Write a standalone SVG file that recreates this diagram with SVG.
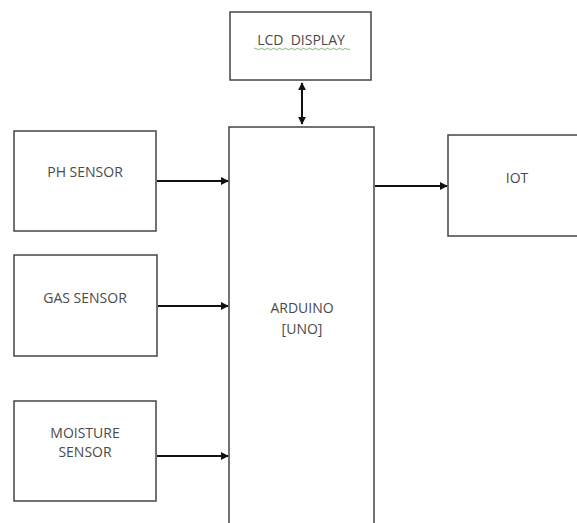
<svg xmlns="http://www.w3.org/2000/svg" width="577" height="523" viewBox="0 0 577 523">
<defs>
<style>
.box{fill:#fff;stroke:#444;stroke-width:1.5}
.lbl{font-family:"Open Sans","Liberation Sans",sans-serif;font-size:14px;fill:#4a4a4a;text-anchor:middle}
.con{stroke:#111;stroke-width:2;fill:none}
</style>
<marker id="ah" viewBox="0 0 10 10" refX="9" refY="5" markerWidth="4" markerHeight="4" orient="auto-start-reverse">
<path d="M0,0 L10,5 L0,10 Z" fill="#111"/>
</marker>
</defs>
<rect width="577" height="523" fill="#fff"/>
<g id="lcd">
<rect class="box" x="230" y="12" width="141" height="68"/>
<text class="lbl" x="301" y="45" xml:space="preserve" style="white-space:pre">LCD  DISPLAY</text>
<path d="M254,49 q1.5,-1.5 3,0 t3,0 t3,0 t3,0 t3,0 t3,0 t3,0 t3,0 t3,0 t3,0 t3,0 t3,0 t3,0 t3,0 t3,0 t3,0 t3,0 t3,0 t3,0 t3,0 t3,0 t3,0 t3,0 t3,0 t3,0 t3,0 t3,0 t3,0 t3,0 t3,0 t3,0 t3,0" fill="none" stroke="#6a9a5a" stroke-width="0.8"/>
</g>
<g id="arduino">
<path class="box" d="M229,530 V127 H374 V530"/>
<text class="lbl" x="302" y="313">ARDUINO</text>
<text class="lbl" x="302" y="334">[UNO]</text>
</g>
<g id="ph">
<rect class="box" x="14" y="131" width="142" height="100"/>
<text class="lbl" x="85" y="177">PH SENSOR</text>
</g>
<g id="gas">
<rect class="box" x="14" y="255" width="143" height="101"/>
<text class="lbl" x="85" y="303">GAS SENSOR</text>
</g>
<g id="moisture">
<rect class="box" x="14" y="401" width="142" height="100"/>
<text class="lbl" x="85" y="438">MOISTURE</text>
<text class="lbl" x="85" y="457">SENSOR</text>
</g>
<g id="iot">
<rect class="box" x="448" y="135" width="140" height="101"/>
<text class="lbl" x="517" y="183">IOT</text>
</g>
<g id="connectors">
<line class="con" x1="302" y1="83" x2="302" y2="124" marker-start="url(#ah)" marker-end="url(#ah)"/>
<line class="con" x1="157" y1="181" x2="228" y2="181" marker-end="url(#ah)"/>
<line class="con" x1="158" y1="306" x2="228" y2="306" marker-end="url(#ah)"/>
<line class="con" x1="157" y1="456" x2="228" y2="456" marker-end="url(#ah)"/>
<line class="con" x1="375" y1="186" x2="447" y2="186" marker-end="url(#ah)"/>
</g>
</svg>
